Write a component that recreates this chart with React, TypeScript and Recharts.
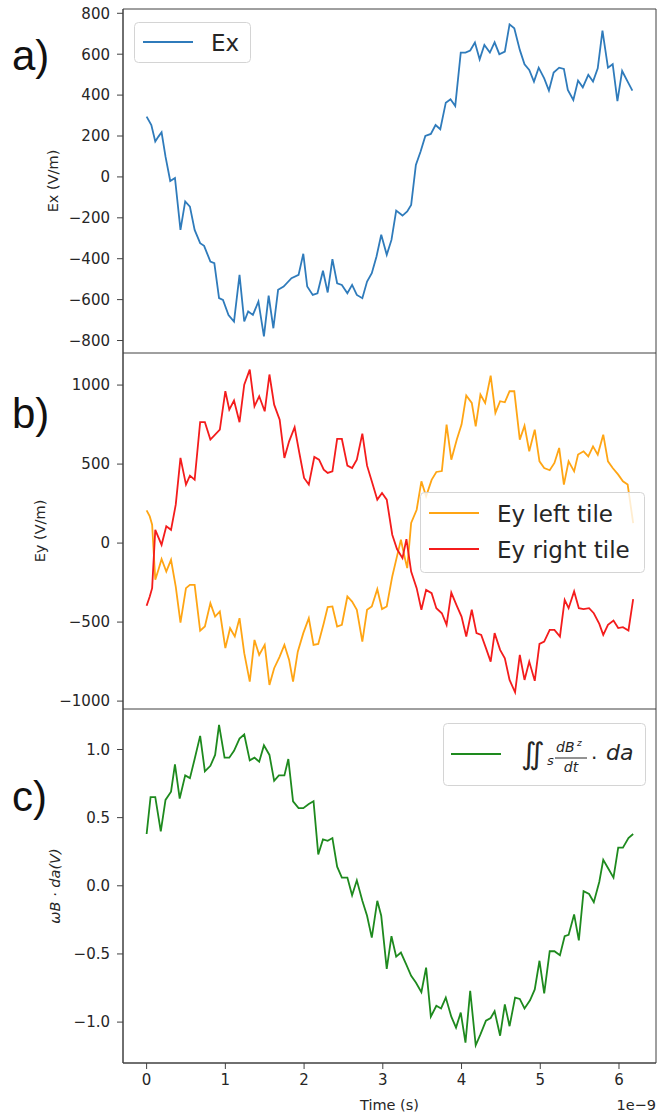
import { LineChart, Line, XAxis, YAxis, Legend, ReferenceArea } from 'recharts';

const FONT = '"DejaVu Sans", sans-serif';
const INK = '#262626';
const SPINE = '#404040';

const TIME_TICKS = [0, 1, 2, 3, 4, 5, 6];
const X_DOMAIN: [number, number] = [-0.3, 6.47];

// a) Ex
const EX_T = [0, 0.06, 0.11, 0.15, 0.19, 0.24, 0.3, 0.36, 0.43, 0.49, 0.55, 0.61, 0.68, 0.73, 0.81, 0.86, 0.92, 0.97, 1.04, 1.11, 1.18, 1.24, 1.29, 1.35, 1.42, 1.49, 1.55, 1.61, 1.67, 1.74, 1.84, 1.93, 1.99, 2.04, 2.11, 2.17, 2.24, 2.3, 2.36, 2.42, 2.48, 2.55, 2.61, 2.67, 2.74, 2.8, 2.86, 2.92, 2.98, 3.05, 3.11, 3.17, 3.25, 3.31, 3.36, 3.42, 3.48, 3.54, 3.61, 3.67, 3.73, 3.8, 3.86, 3.92, 3.99, 4.05, 4.11, 4.17, 4.23, 4.29, 4.36, 4.42, 4.48, 4.55, 4.61, 4.67, 4.74, 4.8, 4.86, 4.92, 4.98, 5.05, 5.11, 5.17, 5.24, 5.3, 5.35, 5.42, 5.48, 5.54, 5.61, 5.67, 5.73, 5.79, 5.86, 5.92, 5.98, 6.04, 6.11, 6.17];
const EX_V = [295, 254, 173, 197, 218, 99, -20, -5, -259, -120, -145, -259, -324, -337, -414, -422, -593, -601, -675, -707, -479, -707, -658, -675, -609, -780, -580, -740, -552, -536, -495, -479, -376, -536, -577, -569, -459, -565, -402, -520, -528, -569, -528, -577, -593, -512, -471, -389, -283, -381, -308, -165, -189, -169, -137, 59, 124, 200, 210, 254, 233, 363, 380, 347, 608, 608, 618, 657, 575, 645, 608, 658, 600, 613, 746, 727, 621, 551, 523, 466, 534, 482, 422, 510, 534, 528, 425, 376, 471, 438, 499, 466, 531, 715, 534, 551, 371, 518, 466, 422];
const EX_TICKS = [-800, -600, -400, -200, 0, 200, 400, 600, 800];

// b) Ey left / right tile
const EYL_T = [0, 0.04, 0.07, 0.11, 0.15, 0.19, 0.25, 0.31, 0.37, 0.43, 0.5, 0.55, 0.61, 0.68, 0.74, 0.81, 0.87, 0.93, 1.0, 1.06, 1.12, 1.18, 1.24, 1.31, 1.37, 1.43, 1.5, 1.56, 1.62, 1.69, 1.75, 1.81, 1.86, 1.92, 1.99, 2.06, 2.12, 2.18, 2.25, 2.3, 2.36, 2.42, 2.48, 2.55, 2.61, 2.67, 2.74, 2.8, 2.86, 2.93, 2.99, 3.05, 3.12, 3.18, 3.23, 3.28, 3.31, 3.36, 3.43, 3.49, 3.55, 3.62, 3.68, 3.75, 3.81, 3.87, 3.94, 4.0, 4.06, 4.13, 4.18, 4.24, 4.3, 4.37, 4.43, 4.49, 4.55, 4.61, 4.67, 4.74, 4.8, 4.86, 4.93, 4.99, 5.05, 5.12, 5.18, 5.24, 5.3, 5.36, 5.43, 5.48, 5.55, 5.61, 5.67, 5.73, 5.8, 5.86, 5.92, 5.99, 6.05, 6.11, 6.18];
const EYL_V = [207, 169, 116, -232, -169, -101, -180, -106, -275, -503, -285, -264, -264, -555, -528, -380, -465, -433, -665, -539, -591, -475, -697, -877, -613, -708, -644, -898, -792, -718, -644, -739, -877, -687, -570, -475, -644, -638, -507, -405, -401, -528, -517, -338, -370, -422, -623, -422, -401, -292, -418, -401, -211, -84, 21, -95, -158, 127, 211, 391, 296, 400, 450, 456, 750, 528, 655, 750, 934, 887, 739, 940, 887, 1060, 824, 898, 891, 961, 961, 655, 743, 581, 718, 517, 475, 461, 507, 602, 370, 517, 454, 560, 581, 549, 612, 560, 686, 517, 475, 433, 391, 370, 127];
const EYR_T = [0, 0.04, 0.07, 0.11, 0.19, 0.25, 0.31, 0.37, 0.43, 0.5, 0.55, 0.61, 0.68, 0.74, 0.81, 0.87, 0.93, 1.0, 1.05, 1.11, 1.18, 1.24, 1.31, 1.37, 1.43, 1.5, 1.56, 1.62, 1.69, 1.75, 1.81, 1.88, 1.94, 2.0, 2.06, 2.13, 2.19, 2.25, 2.3, 2.36, 2.42, 2.48, 2.55, 2.61, 2.67, 2.74, 2.8, 2.86, 2.93, 2.99, 3.05, 3.12, 3.18, 3.25, 3.3, 3.36, 3.43, 3.49, 3.55, 3.62, 3.68, 3.75, 3.81, 3.87, 3.94, 4.0, 4.06, 4.13, 4.19, 4.25, 4.31, 4.37, 4.42, 4.49, 4.55, 4.61, 4.68, 4.74, 4.8, 4.86, 4.93, 4.99, 5.05, 5.12, 5.18, 5.25, 5.31, 5.36, 5.43, 5.49, 5.55, 5.62, 5.68, 5.75, 5.8, 5.86, 5.93, 5.99, 6.05, 6.12, 6.18];
const EYR_V = [-397, -338, -285, 84, -11, 106, 84, 243, 539, 370, 427, 401, 765, 765, 655, 686, 718, 961, 845, 902, 765, 1003, 1098, 866, 929, 834, 1067, 876, 781, 539, 644, 733, 570, 412, 370, 545, 528, 465, 444, 454, 659, 659, 490, 475, 528, 693, 490, 391, 275, 317, 275, 53, -38, -95, 25, -180, -285, -422, -296, -317, -412, -444, -517, -313, -397, -465, -591, -422, -570, -581, -665, -750, -570, -676, -729, -866, -944, -708, -866, -750, -872, -638, -623, -549, -549, -591, -359, -412, -306, -412, -418, -412, -444, -511, -581, -517, -490, -538, -532, -553, -355];
const EY_TICKS = [-1000, -500, 0, 500, 1000];

// c) flux of dBz/dt
const BZ_T = [0, 0.05, 0.11, 0.18, 0.24, 0.31, 0.36, 0.42, 0.49, 0.55, 0.61, 0.68, 0.74, 0.81, 0.87, 0.92, 0.99, 1.05, 1.11, 1.18, 1.24, 1.31, 1.37, 1.43, 1.49, 1.56, 1.62, 1.68, 1.75, 1.8, 1.86, 1.93, 1.99, 2.06, 2.12, 2.18, 2.24, 2.3, 2.36, 2.42, 2.48, 2.55, 2.61, 2.67, 2.74, 2.8, 2.86, 2.93, 2.98, 3.05, 3.11, 3.17, 3.23, 3.3, 3.36, 3.42, 3.49, 3.55, 3.61, 3.68, 3.74, 3.8, 3.87, 3.93, 3.99, 4.05, 4.11, 4.18, 4.24, 4.31, 4.37, 4.42, 4.49, 4.55, 4.61, 4.68, 4.74, 4.8, 4.87, 4.93, 4.99, 5.05, 5.12, 5.18, 5.25, 5.31, 5.36, 5.43, 5.49, 5.55, 5.62, 5.68, 5.75, 5.8, 5.86, 5.93, 5.99, 6.05, 6.12, 6.18];
const BZ_V = [0.38, 0.65, 0.65, 0.4, 0.63, 0.69, 0.89, 0.64, 0.81, 0.79, 0.93, 1.1, 0.84, 0.88, 0.96, 1.18, 0.94, 0.94, 0.99, 1.08, 1.11, 0.92, 0.94, 0.91, 1.03, 0.96, 0.77, 0.81, 0.81, 0.93, 0.62, 0.57, 0.57, 0.6, 0.62, 0.23, 0.34, 0.33, 0.35, 0.14, 0.06, 0.06, -0.07, 0.04, -0.11, -0.22, -0.38, -0.11, -0.22, -0.61, -0.37, -0.52, -0.49, -0.58, -0.66, -0.71, -0.78, -0.6, -0.96, -0.88, -0.9, -0.82, -0.96, -1.04, -0.93, -1.15, -0.77, -1.17, -1.09, -0.99, -0.97, -0.92, -1.1, -0.87, -1.03, -0.82, -0.83, -0.9, -0.84, -0.76, -0.55, -0.79, -0.48, -0.48, -0.51, -0.37, -0.36, -0.21, -0.4, -0.04, -0.06, -0.12, 0.03, 0.19, 0.13, 0.06, 0.28, 0.28, 0.35, 0.38];
const B_TICKS = [-1, -0.5, 0, 0.5, 1];

const rows = (t: number[], v: number[]) => t.map((x, i) => ({ t: x, v: v[i] }));
const fmt = (d: number) => (v: number) => (v < 0 ? '\u2212' : '') + Math.abs(v).toFixed(d);

const tickStyle = { fontSize: 15, fill: INK, fontFamily: FONT };

function yTitle(cx: number, text: string, italic = false) {
  return (props: any) => {
    const vb = props.viewBox;
    const cy = vb.y + vb.height / 2;
    return (
      <text x={cx} y={cy} dy="0.35em" transform={`rotate(-90 ${cx} ${cy})`} textAnchor="middle"
        fontSize={14.5} fontFamily={FONT} fontStyle={italic ? 'italic' : 'normal'} fill={INK}>
        {text}
      </text>
    );
  };
}

function boxLegend(w: number, h: number, ys: number[]) {
  return (props: any) => {
    const items = props.payload ?? [];
    return (
      <svg width={w} height={h} style={{ display: 'block' }}>
        <rect x={0.5} y={0.5} width={w - 1} height={h - 1} rx={4} fill="rgba(255,255,255,0.8)" stroke="#d4d4d4" />
        {items.map((it: any, i: number) => (
          <g key={i}>
            <line x1={9} x2={59} y1={ys[i]} y2={ys[i]} stroke={it.color} strokeWidth={2} />
            <text x={77} y={ys[i] + 8.5} fontSize={23} fontFamily={FONT} fill={INK}>{it.value}</text>
          </g>
        ))}
      </svg>
    );
  };
}

function fluxLegend(props: any) {
  const it = (props.payload ?? [])[0];
  return (
    <svg width={203} height={63} style={{ display: 'block' }}>
      <rect x={0.5} y={0.5} width={202} height={62} rx={4} fill="rgba(255,255,255,0.8)" stroke="#d4d4d4" />
      <line x1={8} x2={58} y1={31} y2={31} stroke={it ? it.color : '#1e8a1e'} strokeWidth={2} />
      <g fontFamily={FONT} fill={INK}>
        <text x={78} y={41} fontSize={30}>∬</text>
        <text x={104} y={42} fontSize={13} fontStyle="italic">s</text>
        <text x={113} y={29} fontSize={14} fontStyle="italic">dB</text>
        <text x={134} y={23} fontSize={9} fontStyle="italic">z</text>
        <line x1={112} x2={144} y1={35} y2={35} stroke={INK} strokeWidth={1} />
        <text x={128} y={49} fontSize={14} fontStyle="italic" textAnchor="middle">dt</text>
        <text x={148} y={42} fontSize={20}>·</text>
        <text x={163} y={37} fontSize={22} fontStyle="italic">da</text>
      </g>
    </svg>
  );
}

function Border({ y }: { y: [number, number] }) {
  return (
    <ReferenceArea x1={X_DOMAIN[0]} x2={X_DOMAIN[1]} y1={y[0]} y2={y[1]}
      fill="none" stroke={SPINE} strokeWidth={1} ifOverflow="visible" />
  );
}

const EX_DOMAIN: [number, number] = [-861, 821];
const EY_DOMAIN: [number, number] = [-1050, 1203];
const B_DOMAIN: [number, number] = [-1.3, 1.297];

export default function App() {
  const exData = rows(EX_T, EX_V);
  const eylData = rows(EYL_T, EYL_V);
  const eyrData = rows(EYR_T, EYR_V);
  const bzData = rows(BZ_T, BZ_V);

  const yAxisCommon = {
    type: 'number' as const,
    width: 123,
    tickSize: 6,
    tickMargin: 7,
    tick: tickStyle,
    stroke: SPINE,
    interval: 0,
    allowDataOverflow: true,
  };

  return (
    <div style={{ position: 'absolute', left: 0, top: 0, width: 657, height: 1119, background: '#fff' }}>
      <svg width={657} height={1119} style={{ position: 'absolute', left: 0, top: 0 }}>
        <g fontFamily='"Liberation Sans", Arial, sans-serif' fontSize={42} fill="#111">
          <text x={12} y={70}>a)</text>
          <text x={12} y={428}>b)</text>
          <text x={12} y={811}>c)</text>
        </g>
      </svg>

      <div style={{ position: 'absolute', left: 0, top: 0 }}>
        <LineChart width={657} height={353} margin={{ top: 9, right: 1, bottom: 0, left: 0 }}>
          <XAxis type="number" dataKey="t" domain={X_DOMAIN} ticks={TIME_TICKS} allowDataOverflow hide />
          <YAxis {...yAxisCommon} domain={EX_DOMAIN} ticks={EX_TICKS} tickFormatter={fmt(0)}
            label={{ content: yTitle(53, 'Ex (V/m)') }} />
          <Border y={EX_DOMAIN} />
          <Line data={exData} dataKey="v" name="Ex" stroke="#2f7bbb" strokeWidth={1.8} dot={false} isAnimationActive={false} />
          <Legend verticalAlign="middle" width={117} height={41} wrapperStyle={{ left: 134, top: 22 }} content={boxLegend(117, 41, [20])} />
        </LineChart>
      </div>

      <div style={{ position: 'absolute', left: 0, top: 353 }}>
        <LineChart width={657} height={356} margin={{ top: 0, right: 1, bottom: 0, left: 0 }}>
          <XAxis type="number" dataKey="t" domain={X_DOMAIN} ticks={TIME_TICKS} allowDataOverflow hide />
          <YAxis {...yAxisCommon} domain={EY_DOMAIN} ticks={EY_TICKS} tickFormatter={fmt(0)}
            label={{ content: yTitle(40, 'Ey (V/m)') }} />
          <Border y={EY_DOMAIN} />
          <Line data={eylData} dataKey="v" name="Ey left tile" stroke="#ffa514" strokeWidth={1.8} dot={false} isAnimationActive={false} />
          <Line data={eyrData} dataKey="v" name="Ey right tile" stroke="#f41c1c" strokeWidth={1.8} dot={false} isAnimationActive={false} />
          <Legend verticalAlign="middle" width={225} height={81} wrapperStyle={{ left: 420, top: 139 }} content={boxLegend(225, 81, [21, 57])} />
        </LineChart>
      </div>

      <div style={{ position: 'absolute', left: 0, top: 709 }}>
        <LineChart width={657} height={410} margin={{ top: 0, right: 1, bottom: 0, left: 0 }}>
          <XAxis type="number" dataKey="t" domain={X_DOMAIN} ticks={TIME_TICKS} allowDataOverflow height={56}
            tickSize={6} tickMargin={5} tick={tickStyle} stroke={SPINE} interval={0} tickFormatter={(v: number) => String(v)}
            label={{
              content: (p: any) => {
                const vb = p.viewBox;
                return (
                  <g fontFamily={FONT} fontSize={14.5} fill={INK}>
                    <text x={vb.x + vb.width / 2} y={vb.y + 47} textAnchor="middle">Time (s)</text>
                    <text x={vb.x + vb.width} y={vb.y + 47} textAnchor="end">1e−9</text>
                  </g>
                );
              },
            }} />
          <YAxis {...yAxisCommon} domain={B_DOMAIN} ticks={B_TICKS} tickFormatter={fmt(1)}
            label={{ content: yTitle(55, 'ωB · da(V)', true) }} />
          <Border y={B_DOMAIN} />
          <Line data={bzData} dataKey="v" name="flux" stroke="#1e8a1e" strokeWidth={1.8} dot={false} isAnimationActive={false} />
          <Legend verticalAlign="middle" width={203} height={63} wrapperStyle={{ left: 443, top: 14 }} content={fluxLegend} />
        </LineChart>
      </div>
    </div>
  );
}
